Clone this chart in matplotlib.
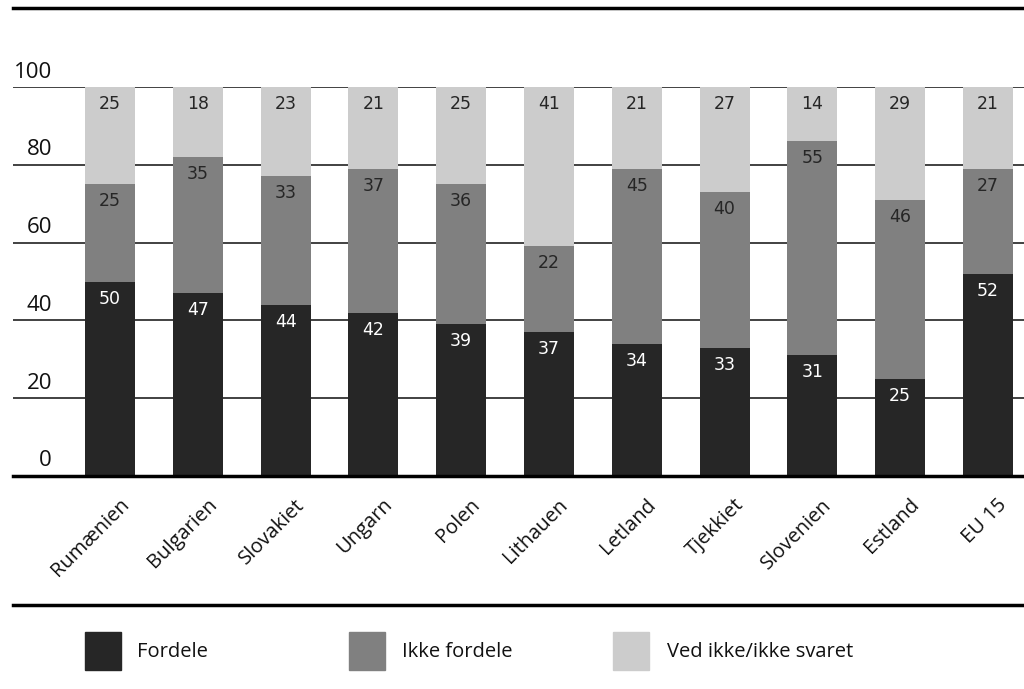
import matplotlib
matplotlib.use("Agg")
import matplotlib.pyplot as plt
from matplotlib.patches import Rectangle
from matplotlib.lines import Line2D
import numpy as np

countries = ["Rumænien", "Bulgarien", "Slovakiet", "Ungarn", "Polen", "Lithauen",
             "Letland", "Tjekkiet", "Slovenien", "Estland", "EU 15"]
fordele = [50, 47, 44, 42, 39, 37, 34, 33, 31, 25, 52]
ikke_fordele = [25, 35, 33, 37, 36, 22, 45, 40, 55, 46, 27]
ved_ikke = [25, 18, 23, 21, 25, 41, 21, 27, 14, 29, 21]
series_names = ["Fordele", "Ikke fordele", "Ved ikke/ikke svaret"]
yticks = [0, 20, 40, 60, 80, 100]

colors = ["#262626", "#808080", "#cccccc"]
text_colors = ["white", "#262626", "#262626"]

plt.rcParams['font.family'] = ['Open Sans', 'DejaVu Sans']

W, H = 1024, 689
fig = plt.figure(figsize=(W / 100, H / 100), dpi=100)
ax = fig.add_axes([13 / W, (H - 476) / H, (W - 13) / W, (476 - 87) / H])

x = np.arange(len(countries))
width = 0.57
ax.set_xlim(-1.105, 10.41)
ax.set_ylim(0, 100)

# gridlines behind bars
for yv in yticks[1:]:
    ax.axhline(yv, color="#333333", lw=1.3, zorder=0)

bottom = np.zeros(len(countries))
for vals, col, tcol in zip([fordele, ikke_fordele, ved_ikke], colors, text_colors):
    vals = np.array(vals, dtype=float)
    ax.bar(x, vals, width, bottom=bottom, color=col, zorder=2)
    for xi, b, v in zip(x, bottom, vals):
        ax.annotate(f"{int(v)}", (xi, b + v), xytext=(0, -17), textcoords="offset pixels",
                    ha="center", va="center", color=tcol, fontsize=12.5,
                    family=['DejaVu Sans'], zorder=3)
    bottom += vals

ax.axhline(0, color="black", lw=2.5, zorder=4, clip_on=False)

for s in ax.spines.values():
    s.set_visible(False)
ax.set_xticks([])
ax.set_yticks([])

# y tick labels sit just above their gridlines
for yv in yticks:
    ax.annotate(f"{yv}", (0, yv), xycoords=("axes fraction", "data"),
                xytext=(39, 15), textcoords="offset pixels",
                ha="right", va="center", fontsize=16, color="#111111")

# rotated category labels
for xi, name in zip(x, countries):
    ax.annotate(name, (xi, 0), xytext=(16, -26), textcoords="offset pixels",
                ha="right", va="center", rotation=45, rotation_mode="anchor",
                fontsize=14.5, color="#111111", annotation_clip=False)

# horizontal rules at top and above legend
fig.add_artist(Line2D([13 / W, 1.0], [(H - 8) / H] * 2, color="black", lw=2.5))
fig.add_artist(Line2D([13 / W, 1.0], [(H - 605) / H] * 2, color="black", lw=2.5))

# legend
leg_x = [85, 349, 613]
txt_x = [137, 402, 667]
for lx, tx, col, name in zip(leg_x, txt_x, colors, series_names):
    fig.add_artist(Rectangle((lx / W, (H - 670) / H), 36 / W, 38 / H,
                             transform=fig.transFigure, color=col))
    fig.text(tx / W, (H - 652) / H, name, ha="left", va="center", fontsize=14.5,
             color="#111111")

fig.savefig("out.png", dpi=100)
